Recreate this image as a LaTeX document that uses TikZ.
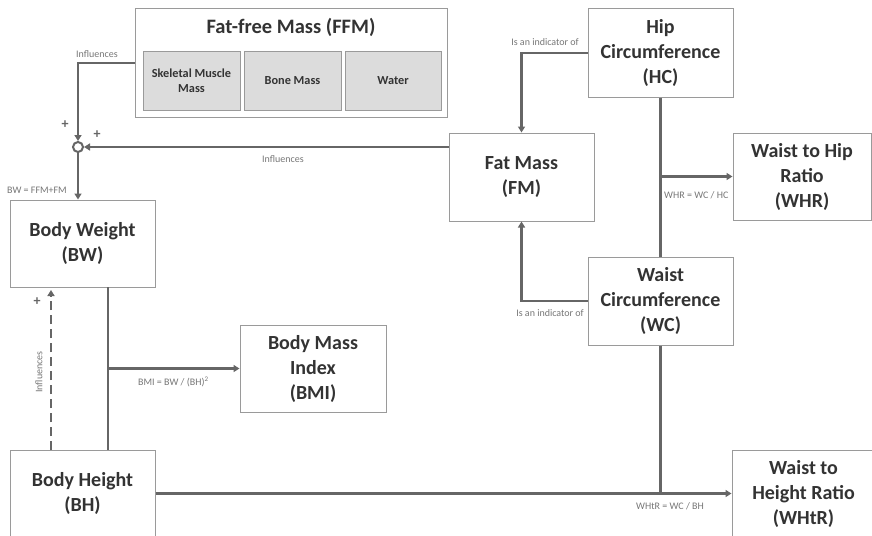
\documentclass[tikz,border=0pt]{standalone}
\usepackage{fontspec}
\setmainfont{Carlito}
\usetikzlibrary{arrows.meta}
\definecolor{ln}{HTML}{666666}
\definecolor{bd}{HTML}{9A9A9A}
\definecolor{tx}{HTML}{333333}
\definecolor{sm}{HTML}{777777}
\definecolor{inner}{HTML}{DCDCDC}
\begin{document}
\begin{tikzpicture}[x=1pt,y=-1pt,
  box/.style={draw=bd,line width=1pt,fill=white,align=center,text=tx,font=\fontsize{20}{25}\selectfont\bfseries,inner sep=0pt},
  sub/.style={draw=bd,line width=1pt,fill=inner,align=center,text=tx,font=\fontsize{12.3}{15}\selectfont\bfseries,inner sep=0pt,minimum width=97pt,minimum height=58pt},
  conn/.style={draw=ln,line width=2.4pt},
  arr/.style={conn,-{Triangle[length=6pt,width=7pt]}},
  lbl/.style={text=sm,font=\fontsize{10}{12}\selectfont,inner sep=0pt},
  plus/.style={text=ln,font=\fontsize{14}{14}\selectfont\bfseries,inner sep=0pt}]
\clip (0,0) rectangle (872,535);
\fill[white] (0,0) rectangle (872,535);
% nodes
\node[box,minimum width=312pt,minimum height=108pt] (FFM) at (291,63) {};
\node[text=tx,font=\fontsize{20.5}{24}\selectfont\bfseries] (FFMt) at (291,27) {Fat-free Mass (FFM)};
\node[sub] (SMM) at (191.5,81) {Skeletal Muscle\\Mass};
\node[sub] (BM) at (292.5,81) {Bone Mass};
\node[sub,minimum width=96pt] (WA) at (393,81) {Water};
\node[box,minimum width=145pt,minimum height=88pt] (HC) at (660.5,53) {Hip\\Circumference\\(HC)};
\node[box,minimum width=145pt,minimum height=88pt] (FM) at (521.5,177) {Fat Mass\\(FM)};
\node[box,minimum width=138pt,minimum height=87pt] (WHR) at (802,176.5) {Waist to Hip\\Ratio\\(WHR)};
\node[box,minimum width=145pt,minimum height=88pt] (WC) at (660.5,301) {Waist\\Circumference\\(WC)};
\node[box,minimum width=145pt,minimum height=87pt] (BW) at (82.5,243.5) {Body Weight\\(BW)};
\node[box,minimum width=146pt,minimum height=87pt] (BMI) at (313,368.5) {Body Mass\\Index\\(BMI)};
\node[box,minimum width=145pt,minimum height=87pt] (BH) at (82.5,493.5) {Body Height\\(BH)};
\node[box,minimum width=143pt,minimum height=87pt] (WHtR) at (803.5,493.5) {Waist to\\Height Ratio\\(WHtR)};
\node[circle,draw=ln,line width=2pt,fill=white,minimum size=10pt,inner sep=0pt] (circ) at (78,147) {};
% coordinates
\coordinate (bwb) at (108,287);
\coordinate (dsb) at (51,450);
\coordinate (dst) at (51,290);
% connectors
\draw[arr] (FFM.west) -| (circ.north);
\draw[arr] (circ -| FM.west) -- (circ.east);
\draw[arr] (circ.south) -- (circ.south |- BW.north);
\draw[arr] (HC.west) -| (FM.north);
\draw[arr] (WC.west) -| (FM.south);
\draw[conn] (HC.south) -- (WC.north);
\draw[arr] (HC.south |- WHR.west) -- (WHR.west);
\draw[conn] (bwb) -- (bwb |- BH.north);
\draw[arr] (bwb |- BMI.west) -- (BMI.west);
\draw[arr] (BH.east) -- (WHtR.west);
\draw[conn] (WC.south) -- (WC.south |- BH.east);
\draw[arr,dashed,dash pattern=on 9pt off 5pt,line width=2.2pt] (dsb) -- (dst);
% labels
\node[lbl] (l1) at (97,54) {Influences};
\node[lbl] (l2) at (283,159) {Influences};
\node[plus] (p1) at (65,125) {+};
\node[plus] (p2) at (97,135) {+};
\node[plus] (p3) at (37,302) {+};
\node[lbl] (l3) at (37,190) {BW = FFM+FM};
\node[lbl,anchor=east] (l4) at (579,42) {Is an indicator of};
\node[lbl,anchor=west] (l5) at (664,195) {WHR = WC / HC};
\node[lbl,anchor=east] (l6) at (584,313) {Is an indicator of};
\node[lbl,anchor=west] (l7) at (138,382) {BMI = BW / (BH)\textsuperscript{2}};
\node[lbl,rotate=90] (l8) at (39,372) {Influences};
\node[lbl] (l9) at (670,506) {WHtR = WC / BH};
\end{tikzpicture}
\end{document}
